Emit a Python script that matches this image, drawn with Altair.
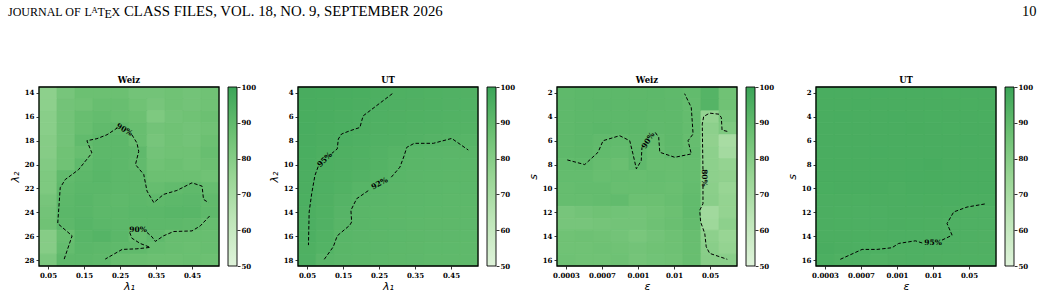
import altair as alt
import pandas as pd

# ---------------- data ----------------
LAM1 = [0.05, 0.10, 0.15, 0.20, 0.25, 0.30, 0.35, 0.40, 0.45, 0.50]
LAM2_WEIZ = list(range(14, 29))
LAM2_UT = list(range(4, 19))
EPS_POS = list(range(10))
S_VALS = list(range(2, 17))

LAM1_TICKS = [0.05, 0.15, 0.25, 0.35, 0.45]
LAM2_WEIZ_TICKS = [14, 16, 18, 20, 22, 24, 26, 28]
LAM2_UT_TICKS = [4, 6, 8, 10, 12, 14, 16, 18]
EPS_TICK_POS = [0, 2, 4, 6, 8]
EPS_TICK_LABELS = ["0.0003", "0.0007", "0.001", "0.01", "0.05"]
S_TICKS = [2, 4, 6, 8, 10, 12, 14, 16]
CBAR_TICKS = [50, 60, 70, 80, 90, 100]

CMAP_DOMAIN = [50, 62.5, 75, 87.5, 100]
CMAP_COLORS = ["#dff3da", "#bfe6b9", "#98d594", "#6abf71", "#3ba558"]

# Weiz, lambda1 (columns) x lambda2 (rows 14..28)
WEIZ_LAM = [
    [78, 84, 87, 87, 87, 85, 85, 86, 85, 86],
    [78, 85, 86, 88, 88, 86, 84, 86, 85, 86],
    [79, 85, 88, 89, 88, 87, 82, 85, 86, 87],
    [79, 85, 88, 90, 90.2, 88, 85, 86, 85, 86],
    [80, 85, 89.5, 91, 91, 88, 84, 86, 85, 87],
    [80, 86, 88, 91, 91, 90.2, 85, 86, 86, 88],
    [81, 86, 90.1, 91.5, 91, 89.7, 86, 87, 86, 87],
    [82, 89.5, 91, 92, 91, 90.8, 87, 87, 87, 86],
    [82, 90.5, 91.5, 91.5, 91, 90.8, 88.5, 89.6, 90.3, 88.5],
    [84, 91, 92, 91, 90.5, 91, 90.3, 91, 91.2, 89.8],
    [85, 91.5, 92, 91, 91, 91.5, 91.5, 92, 92, 90.3],
    [86, 91, 92.5, 91.5, 91, 91, 91, 91, 90.5, 88.5],
    [80, 88, 92, 93, 91.5, 88.5, 90.2, 88, 88, 88],
    [80, 89, 91.5, 91, 90.5, 90, 88.5, 88, 87.5, 88],
    [83, 90.8, 91, 90.4, 88, 87.5, 87, 87, 87.5, 87],
]

# UT, lambda1 x lambda2 (rows 4..18)
UT_LAM = [
    [96.4, 96.3, 96.1, 95.9, 95.3, 94.8, 94.6, 94.4, 94.2, 94.0],
    [96.3, 96.1, 95.9, 95.5, 94.9, 94.7, 94.5, 94.3, 94.0, 93.8],
    [96.3, 96.0, 95.6, 95.2, 94.7, 94.5, 94.3, 94.1, 93.8, 93.6],
    [96.2, 95.8, 95.4, 95.05, 94.5, 94.3, 94.0, 93.8, 93.5, 93.3],
    [96.0, 95.6, 95.2, 94.6, 94.2, 94.0, 93.6, 93.2, 92.8, 92.5],
    [95.9, 95.3, 94.8, 94.3, 93.7, 92.9, 91.9, 91.7, 91.6, 91.8],
    [95.7, 94.9, 94.5, 94.0, 93.3, 92.3, 91.8, 91.6, 91.4, 91.5],
    [95.6, 94.8, 94.3, 93.6, 92.8, 91.9, 91.6, 91.4, 91.3, 91.3],
    [95.5, 94.7, 93.8, 92.5, 91.9, 91.6, 91.4, 91.2, 91.1, 91.2],
    [95.4, 94.5, 93.2, 91.9, 91.7, 91.4, 91.2, 91.1, 91.0, 91.0],
    [95.3, 94.3, 92.6, 91.8, 91.5, 91.3, 91.1, 90.9, 90.9, 90.8],
    [95.2, 94.2, 92.4, 91.8, 91.5, 91.2, 91.0, 90.8, 90.8, 90.7],
    [95.1, 93.9, 91.9, 91.6, 91.3, 91.1, 90.9, 90.7, 90.7, 90.6],
    [94.8, 93.5, 91.8, 91.5, 91.2, 91.0, 90.8, 90.6, 90.6, 90.5],
    [94.6, 92.1, 91.6, 91.3, 91.0, 90.8, 90.7, 90.5, 90.5, 90.4],
]

# Weiz, epsilon (columns) x s (rows 2..16)
WEIZ_EPS = [
    [90.5, 91, 91, 91, 90.8, 91, 90.5, 89.5, 93, 86],
    [90.5, 91, 91.2, 91, 91, 90.8, 90.5, 89, 93, 86],
    [90.5, 91, 91, 91, 91, 90.5, 90.5, 89, 76, 84],
    [90.5, 91, 91.5, 91, 91, 90.2, 90.5, 89, 78, 82],
    [90.5, 91, 90.0, 89.5, 90.5, 89, 90.5, 88.5, 77, 70],
    [90.3, 90.8, 89.5, 89, 90.5, 88.5, 90.2, 89, 78, 71],
    [89.5, 89.8, 88.5, 87.5, 90.2, 88, 88, 88.5, 78, 76],
    [89, 89, 88, 88.5, 88, 88.5, 88, 88.5, 78, 77],
    [88.5, 89, 89, 88, 88, 88, 87.5, 89, 78.5, 75],
    [88.5, 88.5, 89, 89.5, 87, 87, 88, 89.5, 79, 76],
    [84, 85, 86, 85.5, 85, 86, 87, 89.5, 72, 76],
    [84, 84, 84.5, 85, 85, 86.5, 87.5, 89, 73, 78],
    [86, 86.5, 86, 85, 83.5, 85, 86.5, 88, 78, 75],
    [86, 86, 86.5, 86, 85, 86, 86.5, 88, 79, 76],
    [86.5, 86, 86, 86.5, 84.5, 85.5, 86, 88, 79.5, 79],
]

# UT, epsilon x s (rows 2..16)
UT_EPS = [
    [96.0, 96.1, 96.0, 96.2, 96.0, 96.1, 96.0, 95.9, 96.0, 96.1],
    [96.1, 96.0, 96.2, 96.1, 96.0, 96.0, 96.1, 96.0, 95.9, 96.0],
    [96.0, 96.2, 96.0, 96.1, 96.2, 96.0, 95.9, 96.0, 96.0, 95.9],
    [96.1, 96.0, 96.1, 96.0, 96.0, 96.3, 96.0, 95.9, 96.0, 96.0],
    [96.0, 96.1, 96.0, 96.1, 96.0, 96.0, 96.1, 96.0, 96.2, 96.0],
    [96.1, 96.0, 96.0, 96.2, 96.0, 96.0, 96.0, 96.0, 96.0, 96.1],
    [96.0, 96.1, 96.0, 96.0, 96.1, 96.2, 96.5, 96.0, 96.0, 96.1],
    [96.0, 96.0, 96.1, 96.0, 96.0, 96.2, 96.3, 96.1, 96.0, 96.0],
    [95.9, 96.0, 96.0, 96.1, 95.6, 96.0, 96.1, 96.0, 96.0, 96.0],
    [95.6, 95.5, 95.4, 95.5, 95.6, 95.7, 95.8, 95.7, 95.6, 95.5],
    [95.6, 95.4, 95.1, 95.1, 95.6, 95.5, 95.6, 95.3, 94.8, 94.7],
    [95.5, 95.4, 95.1, 95.2, 95.5, 95.4, 95.3, 94.7, 94.6, 94.6],
    [95.6, 95.5, 95.4, 95.3, 95.2, 95.1, 95.05, 94.7, 94.6, 94.5],
    [96.0, 95.6, 95.2, 94.9, 94.7, 94.6, 94.7, 94.6, 94.5, 94.5],
    [95.4, 94.8, 94.6, 93.8, 94.5, 94.6, 94.5, 94.4, 94.4, 94.3],
]

# contour lines (in data units), split where the inline label sits
WEIZ_LAM_LINES = [
    [(0.095, 27.92), (0.117, 25.97), (0.077, 24.94), (0.084, 21.94), (0.098, 21.25), (0.117, 20.83),
     (0.135, 20.42), (0.172, 19.03), (0.158, 18.0), (0.186, 17.83), (0.214, 17.5), (0.242, 16.94)],
    [(0.283, 17.5), (0.297, 18.19), (0.302, 18.89), (0.293, 20.0), (0.316, 20.83), (0.325, 22.22),
     (0.344, 23.19), (0.371, 22.5), (0.408, 22.17), (0.45, 21.53), (0.478, 21.81), (0.482, 22.92), (0.496, 23.19)],
    [(0.499, 24.31), (0.473, 25.14), (0.45, 25.56), (0.399, 25.61), (0.371, 25.97), (0.348, 26.44),
     (0.339, 26.06), (0.325, 25.69)],
    [(0.277, 25.69), (0.283, 26.17), (0.306, 26.61), (0.334, 26.94), (0.297, 27.06), (0.256, 27.11), (0.209, 27.92)],
]
WEIZ_LAM_LABELS = [("90%", 0.262, 17.1, 30), ("90%", 0.300, 25.45, 0)]

UT_LAM_LINES = [
    [(0.287, 4.06), (0.206, 5.92), (0.202, 6.33), (0.197, 6.89), (0.169, 7.17), (0.146, 7.44),
     (0.137, 7.86), (0.134, 8.69), (0.119, 9.06)],
    [(0.081, 10.17), (0.072, 10.92), (0.063, 12.44), (0.056, 13.97), (0.054, 16.75)],
    [(0.098, 17.94), (0.123, 16.89), (0.134, 15.97), (0.169, 15.08), (0.174, 14.81), (0.172, 13.83),
     (0.188, 12.86), (0.221, 12.17)],
    [(0.284, 11.06), (0.308, 10.22), (0.32, 9.25), (0.327, 8.56), (0.348, 8.22), (0.401, 8.22),
     (0.452, 7.81), (0.498, 8.78)],
]
UT_LAM_LABELS = [("95%", 0.100, 9.61, -45), ("92%", 0.252, 11.61, -28)]

WEIZ_EPS_LINES = [
    [(0.07, 7.61), (1.04, 8.0), (1.78, 6.97), (2.06, 6.0), (2.98, 5.58), (3.54, 6.0), (3.72, 7.11),
     (3.91, 8.36), (4.18, 7.67), (4.22, 6.56)],
    [(4.96, 5.31), (5.15, 5.72), (5.21, 6.97), (6.04, 7.39), (6.96, 7.11), (6.78, 6.0), (7.06, 5.44),
     (6.96, 3.22), (6.59, 2.06)],
    [(8.96, 5.22), (8.67, 5.11), (8.63, 4.06), (8.5, 3.78), (7.98, 3.69), (7.65, 3.97), (7.57, 4.61), (7.61, 8.5)],
    [(7.61, 9.75), (7.61, 11.28), (7.43, 11.83), (7.48, 12.81), (7.71, 13.78), (7.79, 14.89),
     (7.98, 15.44), (8.96, 15.94)],
]
WEIZ_EPS_LABELS = [("90%", 4.58, 6.0, -58), ("80%", 7.64, 9.12, 90)]

UT_EPS_LINES = [
    [(0.85, 15.94), (2.06, 15.11), (2.89, 15.11), (3.72, 14.97), (4.09, 14.61), (5.02, 14.39), (5.48, 14.61)],
    [(6.5, 14.33), (7.06, 13.92), (6.78, 12.94), (7.15, 11.97), (7.89, 11.56), (8.96, 11.28)],
]
UT_EPS_LABELS = [("95%", 6.0, 14.6, 0)]

# ---------------- layout / style ----------------
PW, PH = 180, 179
SERIF = "DejaVu Serif"
TICK_FS = 7

# header pieces: text, x (relative to first plot's left edge), baseline shift, size
HEADER_BASE = 14.5
HEADER_PIECES = [
    ("JOURNAL OF", -31, 0, 12),
    ("L", 45.5, 0, 12),
    ("A", 52.5, -2.6, 8.5),
    ("T", 58.5, 0, 12),
    ("E", 65.5, 2.6, 12),
    ("X", 72.5, 0, 12),
    ("CLASS FILES, VOL. 18, NO. 9, SEPTEMBER 2026", 85, 0, 14.8),
    ("10", 983, 0, 14.5),
]

cscale = alt.Scale(domain=CMAP_DOMAIN, range=CMAP_COLORS, interpolate="rgb")
grad = alt.Gradient(
    gradient="linear", x1=0, x2=0, y1=1, y2=0,
    stops=[alt.GradientStop(color=c, offset=(d - CMAP_DOMAIN[0]) / (CMAP_DOMAIN[-1] - CMAP_DOMAIN[0]))
           for d, c in zip(CMAP_DOMAIN, CMAP_COLORS)],
)


def cells_df(grid, xs, ys, hx, hy):
    rows = []
    for j, yv in enumerate(ys):
        for i, xv in enumerate(xs):
            rows.append(dict(x0=xv - hx, x1=xv + hx, y0=yv - hy, y1=yv + hy, v=grid[j][i]))
    return pd.DataFrame(rows)


def lines_df(segs):
    return pd.DataFrame([dict(seg=k, i=n, x=p[0], y=p[1]) for k, pts in enumerate(segs) for n, p in enumerate(pts)])


def labels_df(labs):
    return pd.DataFrame([dict(t=t, x=x, y=y, a=a % 360) for t, x, y, a in labs])


def panel(title, grid, xs, ys, hx, xdom, ydom, xticks, yticks, xtitle, ytitle, segs, labs,
          xfmt=None, xexpr=None):
    xsc = alt.Scale(domain=xdom, nice=False, zero=False)
    ysc = alt.Scale(domain=ydom, reverse=True, nice=False, zero=False)
    xax = dict(values=xticks, title=xtitle, titlePadding=2)
    if xfmt:
        xax["format"] = xfmt
    if xexpr:
        xax["labelExpr"] = xexpr
    XAX = alt.Axis(**xax)
    heat = alt.Chart(cells_df(grid, xs, ys, hx, 0.5)).mark_rect(strokeWidth=0.8).encode(
        x=alt.X("x0:Q", scale=xsc, axis=XAX),
        x2="x1:Q",
        y=alt.Y("y0:Q", scale=ysc, axis=alt.Axis(values=yticks, title=ytitle, titlePadding=4, orient="left")),
        y2="y1:Q",
        color=alt.Color("v:Q", scale=cscale, legend=None),
        stroke=alt.Stroke("v:Q", scale=cscale, legend=None),
    )
    lines = alt.Chart(lines_df(segs)).mark_line(color="black", strokeDash=[3.5, 2], strokeWidth=1).encode(
        x=alt.X("x:Q", scale=xsc, axis=XAX),
        y=alt.Y("y:Q", scale=ysc, axis=None),
        detail="seg:N",
        order="i:Q",
    )
    texts = alt.Chart(labels_df(labs)).mark_text(font=SERIF, fontWeight="bold", fontSize=7.5, color="black").encode(
        x=alt.X("x:Q", scale=xsc, axis=XAX),
        y=alt.Y("y:Q", scale=ysc, axis=None),
        text="t:N",
        angle=alt.Angle("a:Q", scale=None),
    )
    frame = alt.Chart(alt.Data(values=[{}])).mark_rect(filled=False, stroke="black", strokeWidth=1.3).encode(
        x=alt.value(0), x2=alt.value(PW), y=alt.value(0), y2=alt.value(PH)
    )
    cbar = alt.Chart(pd.DataFrame({"lo": [CBAR_TICKS[0]], "hi": [CBAR_TICKS[-1]]})).mark_rect(
        fill=grad, stroke="black", strokeWidth=0.9
    ).encode(
        x=alt.value(189), x2=alt.value(198),
        y=alt.Y("lo:Q", scale=alt.Scale(domain=[CBAR_TICKS[0], CBAR_TICKS[-1]], nice=False, zero=False),
                axis=alt.Axis(orient="right", offset=18, values=CBAR_TICKS, title=None, labelPadding=1)),
        y2="hi:Q",
    )
    return alt.layer(heat, lines, texts, frame, cbar).resolve_scale(y="independent").properties(
        width=PW, height=PH,
        title=alt.TitleParams(title, font=SERIF, fontWeight="bold", fontSize=8.5, offset=-1, color="black",
                              frame="group"),
    )


eps_expr = "[" + ",".join("'%s'" % l for l in EPS_TICK_LABELS) + "][indexof([" + \
    ",".join(str(p) for p in EPS_TICK_POS) + "], datum.value)]"

p1 = panel("Weiz", WEIZ_LAM, LAM1, LAM2_WEIZ, 0.025, [0.025, 0.525], [13.5, 28.5], LAM1_TICKS,
           LAM2_WEIZ_TICKS, "λ₁", "λ₂", WEIZ_LAM_LINES, WEIZ_LAM_LABELS, xfmt=".2f")
p2 = panel("UT", UT_LAM, LAM1, LAM2_UT, 0.025, [0.025, 0.525], [3.5, 18.5], LAM1_TICKS,
           LAM2_UT_TICKS, "λ₁", "λ₂", UT_LAM_LINES, UT_LAM_LABELS, xfmt=".2f")
p3 = panel("Weiz", WEIZ_EPS, EPS_POS, S_VALS, 0.5, [-0.5, 9.5], [1.5, 16.5], EPS_TICK_POS,
           S_TICKS, "ε", "s", WEIZ_EPS_LINES, WEIZ_EPS_LABELS, xexpr=eps_expr)
p4 = panel("UT", UT_EPS, EPS_POS, S_VALS, 0.5, [-0.5, 9.5], [1.5, 16.5], EPS_TICK_POS,
           S_TICKS, "ε", "s", UT_EPS_LINES, UT_EPS_LABELS, xexpr=eps_expr)

header = alt.layer(*[
    alt.Chart(alt.Data(values=[{}])).mark_text(
        text=t, font="Liberation Serif", fontSize=fs, align="left", baseline="alphabetic", color="black"
    ).encode(x=alt.value(x), y=alt.value(HEADER_BASE + dy))
    for t, x, dy, fs in HEADER_PIECES
]).properties(width=900, height=16)

panels = alt.hconcat(p1, p2, p3, p4, spacing=10)

chart = alt.vconcat(header, panels, spacing=54).properties(
    padding={"left": 7, "top": 0, "right": 0, "bottom": 0}
).configure_view(stroke="transparent").configure_axis(
    labelFont=SERIF, labelFontWeight="bold", labelFontSize=TICK_FS, labelColor="black",
    tickColor="black", tickSize=3, tickWidth=0.8, labelPadding=2, domain=False, grid=False,
    titleFont="DejaVu Sans", titleFontSize=11, titleFontWeight="normal", titleFontStyle="italic",
    titleColor="black",
)

chart.save("out.html", embed_options={"renderer": "svg", "actions": False})
